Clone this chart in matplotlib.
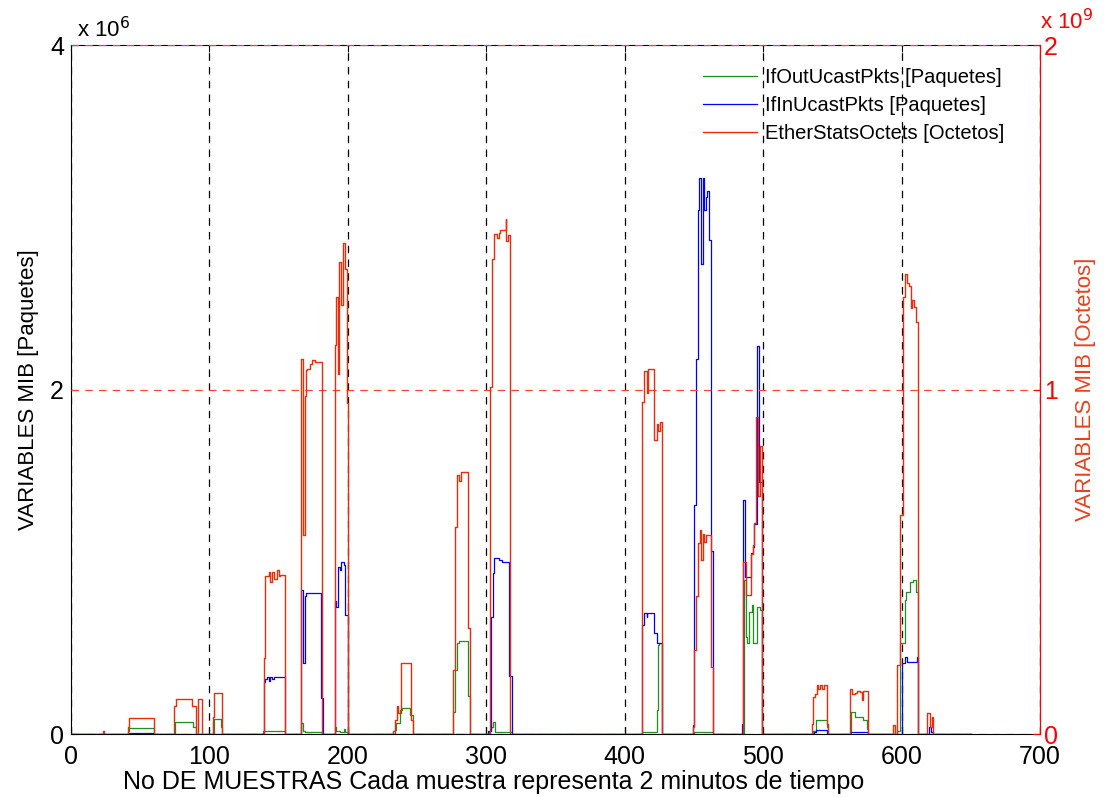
import matplotlib
matplotlib.use("Agg")
import matplotlib.pyplot as plt

plt.rcParams['font.family'] = ['Liberation Sans', 'DejaVu Sans']

# sample index breakpoints (steps-post) and values
# packets in units of 1e6, octets in units of 1e9
out_x = [0, 41, 42, 60, 75, 88, 90, 103.5, 108.4, 109.3, 139, 154.3, 166.2, 167.4, 169, 181.6,
         190.4, 191.2, 194, 197, 198, 200.2, 234, 235, 237.5, 239, 245, 247.3,
         276.2, 277.5, 279, 280, 287, 288.2, 302, 303.5, 304.5, 306, 318.3,
         412.2, 423.1, 424.3, 425, 427.2, 450, 464, 486.2, 487.4, 488.1, 489.8, 491.7, 492.9,
         495.3, 498, 499.4, 536.2, 538, 545.9, 547.1, 563.5, 566.4, 572.4, 575.3, 576,
         597, 598.9, 602.4, 603.5, 606, 608.5, 610.4, 612.1, 650]
out_y = [0, 0.015, 0.035, 0, 0.07, 0.04, 0, 0.087, 0.04, 0, 0.02, 0, 0.062, 0.02, 0.01, 0,
         0.04, 0.015, 0.01, 0.03, 0.01, 0, 0.023, 0.062, 0.139, 0.149, 0.11, 0,
         0.13, 0.37, 0.53, 0.54, 0.22, 0, 0.02, 0.04, 0.07, 0.01, 0,
         0.013, 0.139, 0.517, 0.527, 0, 0.01, 0, 0.894, 0.565, 0.527, 0.71, 0.75, 0.527,
         0.74, 0.72, 0, 0.02, 0.081, 0.04, 0, 0.13, 0.1, 0.08, 0.03, 0,
         0.02, 0.527, 0.778, 0.826, 0.884, 0.894, 0.826, 0, 0]

in_x = [0, 41, 60, 139.3, 140.3, 141.5, 142.7, 144, 145.1, 147, 154.3,
        166.2, 167.4, 169, 169.8, 172, 180.4, 182.3,
        190.4, 191.6, 192.8, 194.2, 195, 197, 198.1, 200.2,
        301.5, 303.4, 304.6, 305.8, 309, 311, 316.6, 318.3,
        412.2, 414, 415.9, 416.3, 421.4, 423.6, 427.2,
        449.1, 450.3, 451.5, 452.7, 453.9, 455.3, 456.8, 457.3, 458.5, 459.7, 461.1, 462.3, 464,
        484.5, 485.7, 486.9, 491, 492.4, 493.6, 495.3, 496.8, 499.4,
        537, 538.5, 546, 563, 576, 600, 602.4, 604, 611, 612.1, 619.5, 621, 623, 650]
in_y = [0, 0.005, 0, 0.3, 0.32, 0.33, 0.31, 0.33, 0.32, 0.33, 0,
        0.836, 0.41, 0.80, 0.817, 0.82, 0.207, 0,
        0.77, 0.74, 0.97, 0.95, 1.0, 0.98, 0.69, 0,
        0.02, 0.677, 0.933, 1.02, 1.01, 1.0, 0.337, 0,
        0.633, 0.70, 0.68, 0.70, 0.588, 0.527, 0,
        0.05, 1.33, 2.18, 3.04, 3.226, 2.73, 3.226, 3.04, 3.12, 3.15, 2.87, 1.06, 0,
        0.06, 1.36, 0.913, 1.05, 1.087, 1.22, 2.25, 1.465, 0,
        0.01, 0.023, 0, 0.01, 0, 0.41, 0.449, 0.42, 0.45, 0, 0.04, 0.01, 0, 0]

oct_x = [0, 23, 24, 41, 42, 60, 74.6, 75.5, 87.6, 90, 91.5, 94.3, 102.3, 103.5, 109.3,
         139.1, 140.3, 142.7, 143.9, 145.1, 146.3, 148.7, 150, 151.1, 154.3,
         166.2, 167.4, 169, 169.8, 170.7, 172.6, 173.9, 176.3, 181.6,
         190.4, 191.6, 192.8, 193.3, 195, 196.2, 198.1, 199.5, 200.2,
         232.9, 234.1, 235.3, 236.5, 238.2, 245.6, 247.3,
         276.2, 277.4, 278.8, 280.5, 281.5, 287, 288.2,
         302.7, 304.3, 305.8, 307.5, 309, 310, 314, 314.5, 316, 317.1,
         412.2, 414, 416, 416.5, 417.1, 421.2, 423.1, 424.3, 425.5, 427.2,
         449.1, 450.3, 451.5, 453.1, 454.4, 455.1, 456.8, 457.5, 458.7, 462.3, 464,
         485.7, 487.4, 491, 492.4, 493.6, 494.6, 496.5, 497.5, 499.4,
         535.5, 536.2, 537.5, 538.7, 540, 541.1, 542.7, 544, 545.9, 547.1,
         562.7, 564.4, 566.4, 567.6, 570, 571.2, 572.4, 576,
         593.6, 595, 596.4, 597, 598.9, 600.8, 602.4, 604, 605.5, 606.8, 607.5, 609, 610.4, 612.1,
         618.6, 620.5, 621.7, 622.9, 650]
oct_y = [0, 0.008, 0, 0.02, 0.046, 0, 0.08, 0.101, 0.08, 0, 0.101, 0, 0.05, 0.12, 0,
         0.22, 0.46, 0.47, 0.44, 0.47, 0.45, 0.475, 0.46, 0.462, 0,
         1.09, 0.578, 0.98, 1.057, 1.06, 1.075, 1.086, 1.08, 0,
         1.13, 1.27, 1.045, 1.37, 1.246, 1.425, 1.35, 0.96, 0,
         0.01, 0.04, 0.08, 0.06, 0.205, 0.04, 0,
         0.186, 0.6, 0.752, 0.735, 0.76, 0.307, 0,
         1.008, 1.38, 1.451, 1.44, 1.455, 1.463, 1.495, 1.43, 1.45, 0,
         0.965, 1.055, 0.99, 1.055, 1.06, 0.853, 0.9, 0.88, 0.907, 0,
         0.02, 0.244, 0.40, 0.554, 0.592, 0.505, 0.58, 0.558, 0.578, 0.195, 0,
         0.5, 0.403, 0.524, 0.55, 0.612, 0.92, 0.69, 0.837, 0,
         0.03, 0.108, 0.115, 0.142, 0.13, 0.143, 0.13, 0.143, 0.03, 0,
         0.13, 0.117, 0.12, 0.125, 0.123, 0.1, 0.125, 0,
         0.026, 0, 0.08, 0.2, 0.636, 1.27, 1.335, 1.31, 1.30, 1.236, 1.26, 1.24, 1.197, 0,
         0.06, 0.02, 0.05, 0, 0]

labels = ['IfOutUcastPkts [Paquetes]', 'IfInUcastPkts [Paquetes]', 'EtherStatsOctets [Octetos]']
x_ticks = [0, 100, 200, 300, 400, 500, 600, 700]

GREEN = '#1f8f1f'
BLUE = '#0000ff'
RED = '#ec2c08'

fig = plt.figure(figsize=(11.06, 7.97), dpi=100)
ax = fig.add_axes([0.0642, 0.0790, 0.8761, 0.8645])
ax2 = ax.twinx()

l1, = ax.plot(out_x, out_y, drawstyle='steps-post', color=GREEN, lw=0.9)
l2, = ax.plot(in_x, in_y, drawstyle='steps-post', color=BLUE, lw=0.9)
l3, = ax2.plot(oct_x, oct_y, drawstyle='steps-post', color=RED, lw=1.0)

ax.set_xlim(0, 700)
ax.set_ylim(0, 4)
ax2.set_ylim(0, 2)
ax.set_xticks(x_ticks)
ax.set_yticks([0, 2, 4])
ax2.set_yticks([0, 1, 2])

ax.grid(axis='x', color='black', linestyle=(0, (6, 5)), linewidth=0.9)
ax2.grid(axis='y', color='#ff4040', linestyle=(0, (6, 5)), linewidth=0.9)

ax.tick_params(direction='in', length=5, labelsize=18, top=True, right=False, pad=5)
ax.tick_params(axis='x', pad=8)
ax2.tick_params(direction='in', length=5, labelsize=18, colors='#ff0000', pad=3)
for s in ['left', 'bottom', 'top']:
    ax.spines[s].set_color('black')
ax2.spines['right'].set_color('#ff0000')
ax2.spines['left'].set_visible(False)
ax2.spines['top'].set_visible(False)
ax2.spines['bottom'].set_visible(False)

ax.set_ylabel('VARIABLES MIB [Paquetes]', fontsize=16, labelpad=8)
ax2.set_ylabel('VARIABLES MIB [Octetos]', fontsize=16, color='#e8401c', labelpad=12)
fig.text(494 / 1106, 1 - 789 / 797, 'No DE MUESTRAS Cada muestra representa 2 minutos de tiempo',
         fontsize=18, ha='center', va='baseline')

fig.text(77 / 1106, 1 - 37 / 797, 'x 10$^{6}$', fontsize=16)
fig.text(1040 / 1106, 1 - 29 / 797, 'x 10$^{9}$', fontsize=16, color='#ff0000')

leg = ax2.legend([l1, l2, l3], labels, loc='upper right', bbox_to_anchor=(0.982, 0.993),
                 fontsize=14.5, frameon=False, handlelength=2.7, handletextpad=0.4,
                 labelspacing=0.45)

fig.savefig('out.png', dpi=100)
